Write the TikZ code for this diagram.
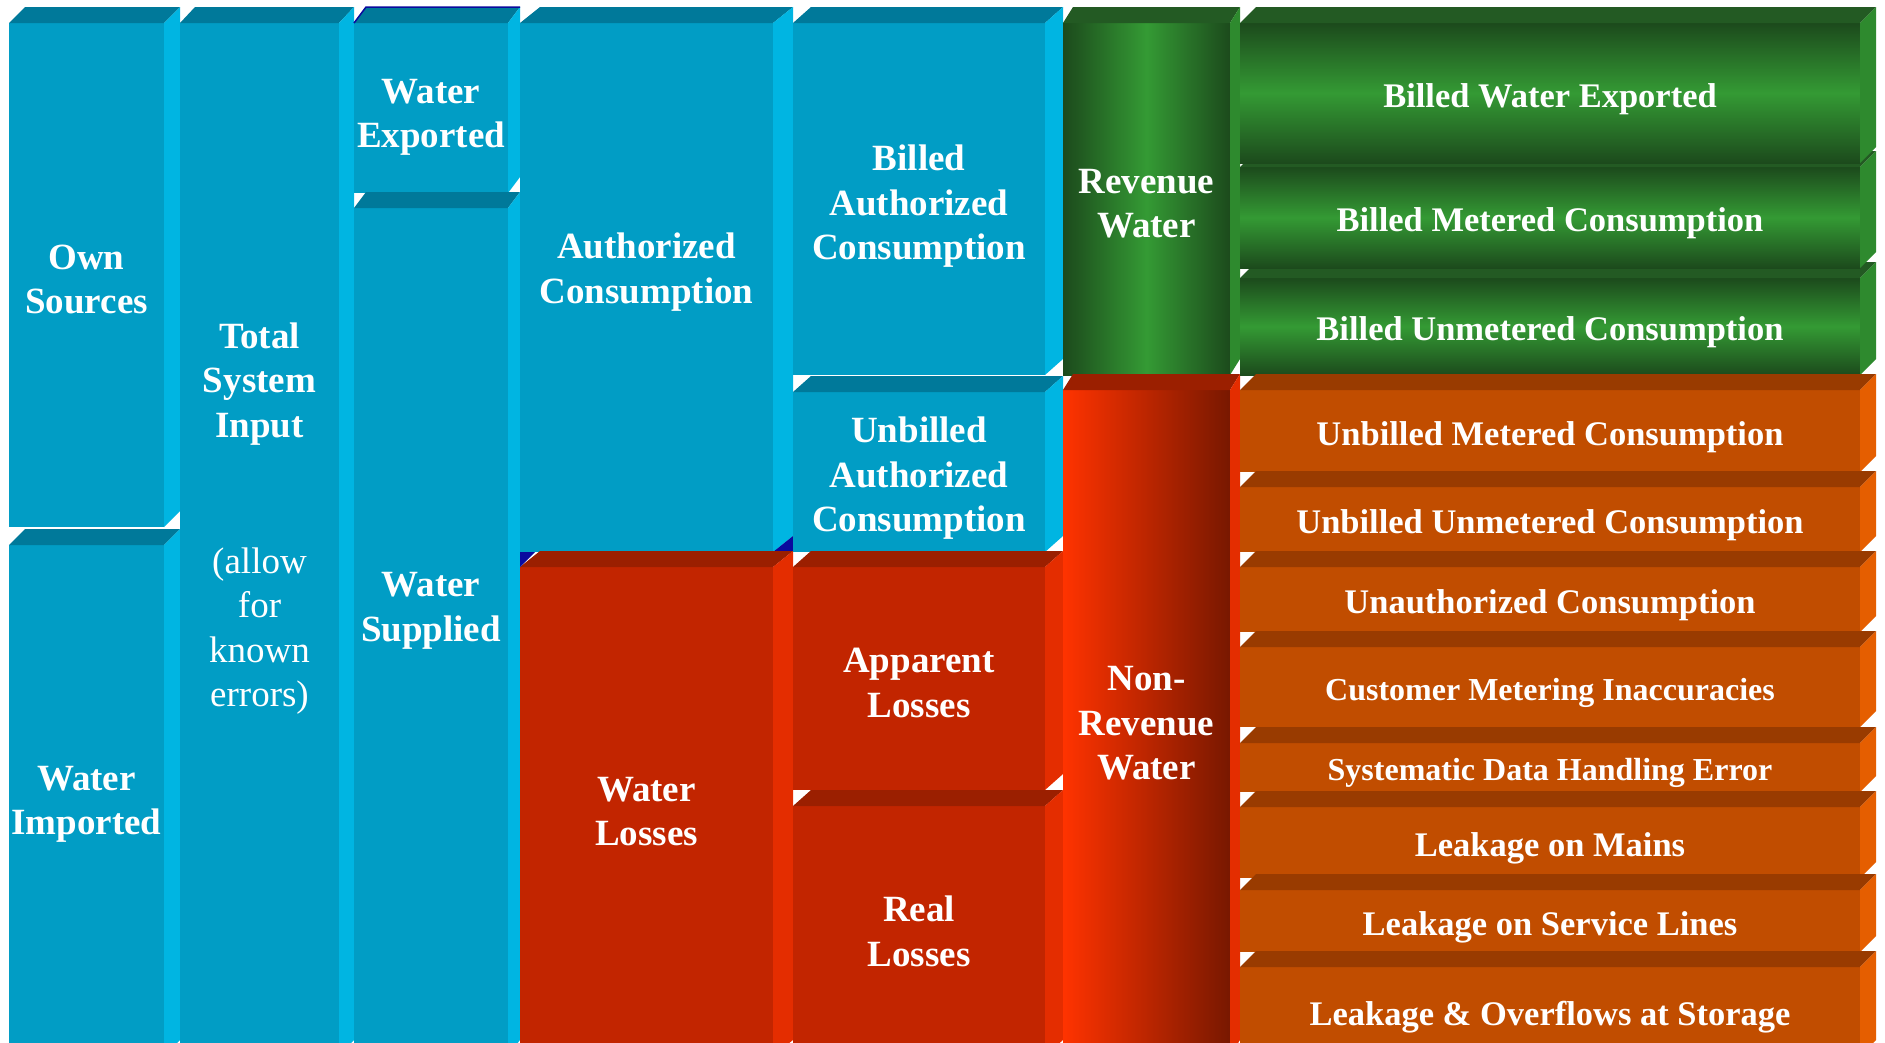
\documentclass[tikz,border=0pt]{standalone}
\usepackage{fontspec}
\setmainfont{Liberation Serif}
\definecolor{bfront}{HTML}{019DC5}
\definecolor{btop}{HTML}{00799A}
\definecolor{bside}{HTML}{00B5E2}
\definecolor{rfront}{HTML}{C22500}
\definecolor{rtop}{HTML}{9B1F00}
\definecolor{rside}{HTML}{E42D00}
\definecolor{nlight}{HTML}{FF3300}
\definecolor{ndark}{HTML}{781800}
\definecolor{gdark}{HTML}{1C4A1C}
\definecolor{glight}{HTML}{349A34}
\definecolor{gtop}{HTML}{235A23}
\definecolor{gside}{HTML}{2E8A2E}
\definecolor{ofront}{HTML}{C14D00}
\definecolor{otop}{HTML}{993B00}
\definecolor{oside}{HTML}{E55E00}
\definecolor{navy}{HTML}{0A0A9E}
\newcommand{\faces}[4]{%
  \fill[#3] (#1.north west) -- ++(#2,-16) -- ([shift={(#2,-16)}]#1.north east) -- (#1.north east) -- cycle;
  \fill[#4] (#1.north east) -- ([shift={(#2,-16)}]#1.north east) -- ([shift={(#2,-16)}]#1.south east) -- (#1.south east) -- cycle;
}
\begin{document}
\begin{tikzpicture}[x=1pt, y=-1pt,
  blk/.style={rectangle, inner sep=0pt, outer sep=0pt, text=white, align=center, text depth=0pt,
    font=\bfseries\fontsize{37}{44.5}\selectfont},
  rowbox/.style={blk, text height=28pt, font=\bfseries\fontsize{34.5}{41}\selectfont},
  smallfont/.style={text height=26pt, font=\bfseries\fontsize{32}{38}\selectfont},
  bluebox/.style={blk, fill=bfront},
  redbox/.style={blk, fill=rfront},
  greenrow/.style={rowbox, top color=gdark, bottom color=gdark, middle color=glight},
  orangerow/.style={rowbox, fill=ofront}]
\useasboundingbox (0,0) rectangle (1885,1042);
\clip (0,0) rectangle (1885,1042);
\fill[white] (0,0) rectangle (1885,1042);
\node[bluebox, text height=77pt, minimum width=155, minimum height=504] (own) at (86.5,275) {Own\\Sources};
\faces{own}{16}{btop}{bside}
\node[bluebox, minimum width=155, minimum height=511] (imp) at (86.5,800.5) {Water\\Imported};
\faces{imp}{16}{btop}{bside}
\node[bluebox, minimum width=159, minimum height=1033] (tsi) at (259.5,539.5) {};
\faces{tsi}{15}{btop}{bside}
\node[blk] (tsitext) at (259.5,380) {Total\\System\\Input};
\node[blk, font=\fontsize{37}{44.5}\selectfont] (tsinote) at (259.5,627) {(allow\\for\\known\\errors)};
\node[bluebox, text height=79pt, minimum width=154, minimum height=170] (exp) at (431,108) {Water\\Exported};
\faces{exp}{12}{btop}{bside}
\draw[navy, line width=1.5] (exp.north west) -- ++(12,-16) -- ([shift={(12,-16)}]exp.north east);
\node[bluebox, minimum width=154, minimum height=848] (sup) at (431,632) {};
\faces{sup}{12}{btop}{bside}
\node[blk] (suptext) at (431,607) {Water\\Supplied};
\node[bluebox, minimum width=253, minimum height=529] (auth) at (646.5,287.5) {};
\faces{auth}{20}{btop}{bside}
\node[blk] (authtext) at (646.5,268) {Authorized\\Consumption};
\fill[navy] (auth.south east) -- ++(20,-16) -- ++(0,16) -- cycle;
\node[redbox, minimum width=253, minimum height=489] (loss) at (646.5,811.5) {Water\\Losses};
\faces{loss}{20}{rtop}{rside}
\fill[navy] (loss.north west) -- ++(0,-15) -- ++(15,0) -- cycle;
\node[bluebox, text height=121pt, minimum width=252, minimum height=352] (bac) at (919,199) {Billed\\Authorized\\Consumption};
\faces{bac}{18}{btop}{bside}
\node[bluebox, text height=119pt, minimum width=252, minimum height=160] (uac) at (919,472) {Unbilled\\Authorized\\Consumption};
\faces{uac}{18}{btop}{bside}
\node[redbox, text height=77pt, minimum width=252, minimum height=223] (app) at (919,678.5) {Apparent\\Losses};
\faces{app}{18}{rtop}{rside}
\node[redbox, minimum width=252, minimum height=250] (real) at (919,931) {Real\\Losses};
\faces{real}{18}{rtop}{rside}
\node[blk, text height=77pt, minimum width=167, minimum height=352, left color=gdark, right color=gdark, middle color=glight] (rev) at (1146.5,199) {Revenue\\Water};
\faces{rev}{10}{gtop}{gside}
\node[blk, minimum width=167, minimum height=666, left color=nlight, right color=ndark] (nrw) at (1146.5,723) {Non-\\Revenue\\Water};
\faces{nrw}{10}{rtop}{rside}
\node[greenrow, minimum width=620, minimum height=97] (buc) at (1550,326.5) {Billed Unmetered Consumption};
\faces{buc}{16}{gtop}{gside}
\node[greenrow, minimum width=620, minimum height=101] (bmc) at (1550,217.5) {Billed Metered Consumption};
\faces{bmc}{16}{gtop}{gside}
\node[greenrow, minimum width=620, minimum height=140] (bwe) at (1550,93) {Billed Water Exported};
\faces{bwe}{16}{gtop}{gside}
\node[orangerow, minimum width=620, minimum height=82] (umc) at (1550,431) {Unbilled Metered Consumption};
\faces{umc}{16}{otop}{oside}
\node[orangerow, minimum width=620, minimum height=65] (uuc) at (1550,519.5) {Unbilled Unmetered Consumption};
\faces{uuc}{16}{otop}{oside}
\node[orangerow, minimum width=620, minimum height=65] (unauth) at (1550,599.5) {Unauthorized Consumption};
\faces{unauth}{16}{otop}{oside}
\node[orangerow, smallfont, minimum width=620, minimum height=80] (cmi) at (1550,687) {Customer Metering Inaccuracies};
\faces{cmi}{16}{otop}{oside}
\node[orangerow, smallfont, minimum width=620, minimum height=49] (sdh) at (1550,767.5) {Systematic Data Handling Error};
\faces{sdh}{16}{otop}{oside}
\node[orangerow, minimum width=620, minimum height=71] (lom) at (1550,842.5) {Leakage on Mains};
\faces{lom}{16}{otop}{oside}
\node[orangerow, minimum width=620, minimum height=62] (lsl) at (1550,921) {Leakage on Service Lines};
\faces{lsl}{16}{otop}{oside}
\node[orangerow, minimum width=620, minimum height=89] (los) at (1550,1011.5) {Leakage \& Overflows at Storage};
\faces{los}{16}{otop}{oside}
\end{tikzpicture}
\end{document}
